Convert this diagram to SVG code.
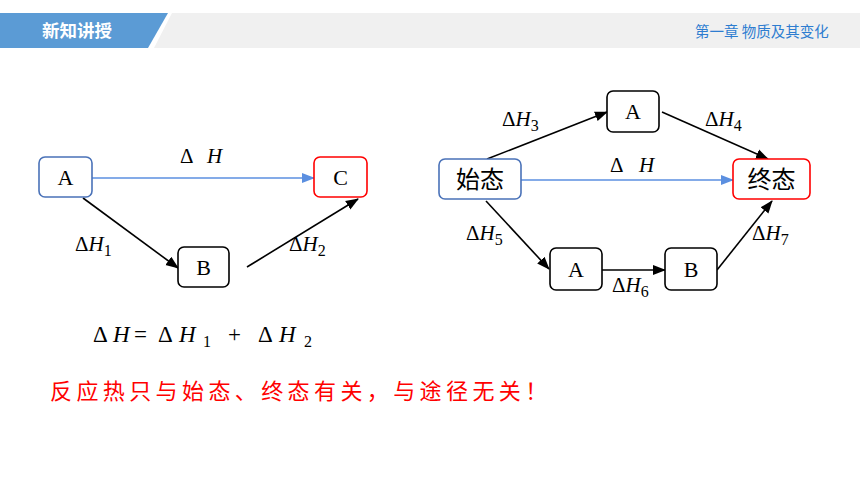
<svg xmlns="http://www.w3.org/2000/svg" width="860" height="484" viewBox="0 0 860 484">
<defs>
<style>
.node{fill:#fff;stroke-width:1.6}
.blk{stroke:#000}
.blu{stroke:#4a72b8}
.red{stroke:#ff0000}
.t{font-family:"Liberation Serif","Times New Roman",serif;font-size:22px;fill:#000}
.cj{font-family:"Noto Sans CJK SC","Noto Sans",sans-serif;font-size:24px;fill:#000}
.lab{font-family:"Liberation Serif","Times New Roman",serif;font-size:21px;fill:#000}
.fm{font-family:"Liberation Serif","Times New Roman",serif;font-size:23px;fill:#000}
.it{font-style:italic}
.sub{font-size:16px}
.c{stroke:#000;stroke-width:1.6;fill:none;marker-end:url(#ab)}
.cb{stroke:#5b8fe0;stroke-width:1.6;fill:none;marker-end:url(#abb)}
</style>
<marker id="ab" markerUnits="userSpaceOnUse" markerWidth="14" markerHeight="12" refX="12" refY="5" orient="auto" viewBox="0 0 14 10">
<path d="M0,0 L13,5 L0,10 z" fill="#000"/>
</marker>
<marker id="abb" markerUnits="userSpaceOnUse" markerWidth="14" markerHeight="12" refX="12" refY="5" orient="auto" viewBox="0 0 14 10">
<path d="M0,0 L13,5 L0,10 z" fill="#5b8fe0"/>
</marker>
</defs>
<rect width="860" height="484" fill="#fff"/>
<g id="header">
<polygon points="172,13 860,13 860,48 154,48" fill="#f0f0f0"/>
<polygon points="0,13 168,13 148,48 0,48" fill="#5b9bd5"/>
<text x="42" y="37" font-family="Noto Sans CJK SC,sans-serif" font-size="17.5" font-weight="bold" fill="#fff">新知讲授</text>
<text x="695" y="37" font-family="Noto Sans CJK SC,sans-serif" font-size="14.5" fill="#2e7dd0">第一章 物质及其变化</text>
</g>
<g id="connectors">
<line class="cb" x1="92" y1="178" x2="314" y2="178"/>
<line class="c" x1="83" y1="198" x2="178" y2="268"/>
<line class="c" x1="247" y1="267" x2="358" y2="199"/>
<line class="cb" x1="521" y1="180" x2="733" y2="180"/>
<line class="c" x1="487" y1="159" x2="607" y2="112"/>
<line class="c" x1="662" y1="112" x2="768" y2="159"/>
<line class="c" x1="486" y1="201" x2="549" y2="269"/>
<line class="c" x1="602" y1="270" x2="665" y2="270"/>
<line class="c" x1="717" y1="270" x2="772" y2="201"/>
</g>
<g id="labels">
<text class="lab" x="180" y="163">Δ</text><text class="lab it" x="207" y="163">H</text>
<text class="lab" x="75" y="251">Δ<tspan class="it">H</tspan><tspan class="sub" dy="5">1</tspan></text>
<text class="lab" x="289" y="251">Δ<tspan class="it">H</tspan><tspan class="sub" dy="5">2</tspan></text>
<text class="lab" x="610" y="172">Δ</text><text class="lab it" x="639" y="172">H</text>
<text class="lab" x="502" y="126">Δ<tspan class="it">H</tspan><tspan class="sub" dy="5">3</tspan></text>
<text class="lab" x="705" y="126">Δ<tspan class="it">H</tspan><tspan class="sub" dy="5">4</tspan></text>
<text class="lab" x="466" y="240">Δ<tspan class="it">H</tspan><tspan class="sub" dy="5">5</tspan></text>
<text class="lab" x="612" y="292">Δ<tspan class="it">H</tspan><tspan class="sub" dy="5">6</tspan></text>
<text class="lab" x="752" y="240">Δ<tspan class="it">H</tspan><tspan class="sub" dy="5">7</tspan></text>
</g>
<g id="nodeA1"><rect class="node blu" x="39" y="157" width="53" height="40" rx="6"/><text class="t" x="65.5" y="185" text-anchor="middle">A</text></g>
<g id="nodeC"><rect class="node red" x="314" y="157" width="53" height="40" rx="6"/><text class="t" x="340.5" y="185" text-anchor="middle">C</text></g>
<g id="nodeB1"><rect class="node blk" x="178" y="247" width="51" height="40" rx="6"/><text class="t" x="203.5" y="275" text-anchor="middle">B</text></g>
<g id="nodeStart"><rect class="node blu" x="439" y="159" width="82" height="40" rx="6"/><text class="cj" x="480" y="188" text-anchor="middle">始态</text></g>
<g id="nodeEnd"><rect class="node red" x="733" y="159" width="77" height="40" rx="6"/><text class="cj" x="771.5" y="188" text-anchor="middle">终态</text></g>
<g id="nodeA2"><rect class="node blk" x="607" y="91" width="52" height="41" rx="6"/><text class="t" x="633" y="119" text-anchor="middle">A</text></g>
<g id="nodeA3"><rect class="node blk" x="550" y="248" width="52" height="42" rx="6"/><text class="t" x="576" y="277" text-anchor="middle">A</text></g>
<g id="nodeB2"><rect class="node blk" x="665" y="248" width="52" height="42" rx="6"/><text class="t" x="691" y="277" text-anchor="middle">B</text></g>
<g id="formula">
<text class="fm" x="93" y="342">Δ</text>
<text class="fm it" x="113" y="342">H</text>
<text class="fm" x="134" y="342">=</text>
<text class="fm" x="158" y="342">Δ</text>
<text class="fm it" x="179" y="342">H</text>
<text class="fm sub" x="203" y="347">1</text>
<text class="fm" x="228" y="342">+</text>
<text class="fm" x="258" y="342">Δ</text>
<text class="fm it" x="279" y="342">H</text>
<text class="fm sub" x="304" y="347">2</text>
</g>
<text x="50" y="399" font-family="Noto Sans CJK SC,sans-serif" font-size="22" letter-spacing="4.4" fill="#ff0000">反应热只与始态、终态有关，与途径无关！</text>
</svg>
